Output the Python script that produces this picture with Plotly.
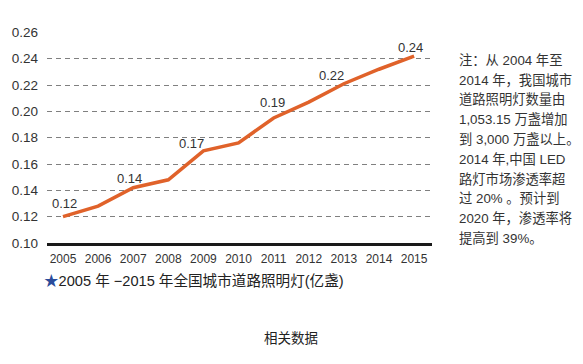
import plotly.graph_objects as go

years = [2005, 2006, 2007, 2008, 2009, 2010, 2011, 2012, 2013, 2014, 2015]
values = [0.120, 0.128, 0.142, 0.148, 0.170, 0.176, 0.195, 0.207, 0.221, 0.232, 0.242]
label_years = [2005, 2007, 2009, 2011, 2013, 2015]
label_texts = ["0.12", "0.14", "0.17", "0.19", "0.22", "0.24"]
y_ticks = [0.10, 0.12, 0.14, 0.16, 0.18, 0.20, 0.22, 0.24, 0.26]
legend_text = "2005 年 −2015 年全国城市道路照明灯(亿盏)"
note_lines = [
    "注：从 2004 年至",
    "2014 年，我国城市",
    "道路照明灯数量由",
    "1,053.15 万盏增加",
    "到 3,000 万盏以上。",
    "2014 年,中国 LED",
    "路灯市场渗透率超",
    "过 20% 。预计到",
    "2020 年，渗透率将",
    "提高到 39%。",
]
caption = "相关数据"

FONT = "Liberation Sans, Arial, Noto Sans CJK SC, sans-serif"
L, R, T, B = 47, 151, 32, 121
W, H = 583, 364
pw, ph = W - L - R, H - T - B

def px(x):
    return (x - L) / pw

def py(y):
    return (H - B - y) / ph

fig = go.Figure()
fig.add_trace(go.Scatter(
    x=years, y=values, mode="lines",
    line=dict(color="#E0622A", width=3.5),
    hoverinfo="skip", showlegend=False,
))

# data labels (offsets are layout only)
label_shift = [(2, 13), (-4, 9), (-12, 7), (-1, 15), (-12, 8), (-4, 9)]
val_by_year = dict(zip(years, values))
for yr, txt, (dx, dy) in zip(label_years, label_texts, label_shift):
    fig.add_annotation(
        x=yr, y=val_by_year[yr], text=txt, showarrow=False,
        xanchor="center", yanchor="middle", xshift=dx, yshift=dy,
        font=dict(size=13, color="#333333", family=FONT),
    )

fig.update_layout(
    width=W, height=H,
    margin=dict(l=L, r=R, t=T, b=B, pad=0),
    paper_bgcolor="white", plot_bgcolor="white",
    font=dict(family=FONT, color="#333333"),
    xaxis=dict(
        range=[2004.545, 2015.51], tickmode="array", tickvals=years,
        ticktext=[str(y) for y in years], showgrid=False, zeroline=False,
        showline=True, linecolor="#1a1a1a", linewidth=3, ticks="",
        tickfont=dict(size=12, color="#333333"), ticklabelstandoff=3,
    ),
    yaxis=dict(
        range=[0.10, 0.2603], tickmode="array", tickvals=y_ticks,
        ticktext=[f"{v:.2f}" for v in y_ticks], showgrid=True,
        gridcolor="#808080", gridwidth=1, griddash="5px,4px", zeroline=False,
        showline=False, ticks="", tickfont=dict(size=13.5, color="#333333"),
        ticklabelstandoff=8,
    ),
)

fig.add_annotation(
    xref="paper", yref="paper", x=px(42), y=py(280), xanchor="left", yanchor="middle",
    text="<span style='color:#2B4C9B'>★</span>" + legend_text,
    showarrow=False, font=dict(size=14.6, color="#222222", family=FONT),
)

for i, line in enumerate(note_lines):
    fig.add_annotation(
        xref="paper", yref="paper", x=px(457), y=py(60 + i * 19.8),
        xanchor="left", yanchor="middle", text=line, showarrow=False,
        font=dict(size=13.3, color="#333333", family=FONT),
    )

fig.add_annotation(
    xref="paper", yref="paper", x=px(291), y=py(338), xanchor="center", yanchor="middle",
    text=caption, showarrow=False, font=dict(size=13.5, color="#222222", family=FONT),
)

fig.write_html("out.html", config={"displayModeBar": False},
               post_script="document.body.style.margin='0';")
